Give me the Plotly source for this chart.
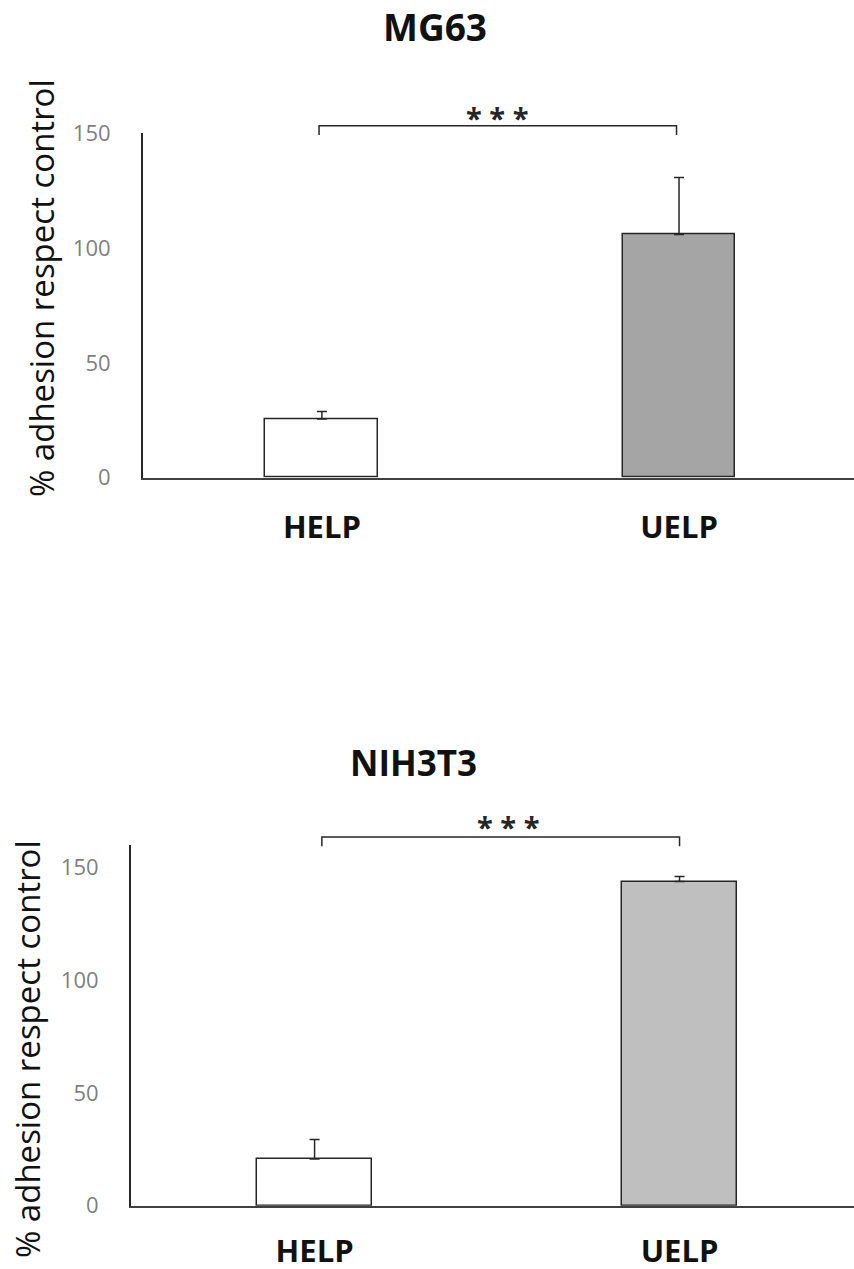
import plotly.graph_objects as go

# ---- data ----
categories = ["HELP", "UELP"]

mg63_values = [25.6, 105.9]
mg63_err = [3.2, 24.9]
mg63_colors = ["#ffffff", "#a5a5a5"]

nih_values = [20.7, 143.8]
nih_err = [8.7, 2.2]
nih_colors = ["#ffffff", "#bfbfbf"]

titles = ["MG63", "NIH3T3"]
y_title = "% adhesion respect control"
y_ticks = [0, 50, 100, 150]
sig_label = "* * *"

# bracket heights (data units) and bracket ends (category positions)
mg63_bracket = {"y": 153.3, "drop": 149.3, "x0": -0.008, "x1": 0.993, "star_y": 157.0, "star_x": 0.49}
nih_bracket = {"y": 163.6, "drop": 159.4, "x0": 0.02, "x1": 1.0, "star_y": 168.0, "star_x": 0.53}

W, H = 854, 1269
FONT = "Open Sans"
LINE = "#404040"

# plot-area pixel boxes
top_box = dict(l=143, r=854, t=133.3, b=477.7)
bot_box = dict(l=131, r=854, t=845, b=1205.7)

top_xr = [-0.501, 1.49]
bot_xr = [-0.503, 1.478]
top_yr = [0, 150]
bot_yr = [0, 160]

def xdom(box):
    return [box["l"] / W, box["r"] / W]

def ydom(box):
    return [1 - box["b"] / H, 1 - box["t"] / H]

fig = go.Figure()

def add_bars(values, errs, colors, xa, ya):
    fig.add_trace(go.Bar(
        x=categories, y=values, xaxis=xa, yaxis=ya,
        width=0.316,
        marker=dict(color=colors, line=dict(color="#262626", width=1.5)),
        error_y=dict(type="data", array=errs, arrayminus=[0] * len(errs),
                     symmetric=False, color="#262626", thickness=1.5, width=5),
        showlegend=False, hoverinfo="skip",
    ))

add_bars(mg63_values, mg63_err, mg63_colors, "x", "y")
add_bars(nih_values, nih_err, nih_colors, "x2", "y2")

xaxis_common = dict(
    type="category", showgrid=False, zeroline=False, showline=True,
    linecolor=LINE, linewidth=2, ticks="",
    tickfont=dict(family=FONT, size=31, color="#111111", weight="bold"),
    fixedrange=True, automargin=False,
)
yaxis_common = dict(
    showgrid=False, zeroline=False, showline=True, linecolor="#262626",
    linewidth=2, ticks="", tickvals=y_ticks, ticklabelstandoff=26,
    tickfont=dict(family=FONT, size=22, color="#7f7f7f"),
    fixedrange=True, automargin=False,
)

fig.update_layout(
    width=W, height=H,
    margin=dict(l=0, r=0, t=0, b=0, pad=0, autoexpand=False),
    paper_bgcolor="white", plot_bgcolor="white",
    bargap=0, showlegend=False,
    xaxis=dict(xaxis_common, domain=xdom(top_box), range=top_xr, anchor="y",
               ticklabelstandoff=21),
    yaxis=dict(yaxis_common, domain=ydom(top_box), range=top_yr, anchor="x"),
    xaxis2=dict(xaxis_common, domain=xdom(bot_box), range=bot_xr, anchor="y2",
                ticklabelstandoff=17),
    yaxis2=dict(yaxis_common, domain=ydom(bot_box), range=bot_yr, anchor="x2"),
)

def frac(v, r):
    return (v - r[0]) / (r[1] - r[0])

def add_bracket(br, xr, yr, xd, yd):
    x0 = frac(br["x0"], xr)
    x1 = frac(br["x1"], xr)
    yt = frac(br["y"], yr)
    yb = frac(br["drop"], yr)
    pts = [(x0, yb), (x0, yt), (x1, yt), (x1, yb)]
    path = "M " + " L ".join(f"{px},{py}" for px, py in pts)
    fig.add_shape(type="path", path=path, xref=xd, yref=yd,
                  line=dict(color="#262626", width=1.5))
    fig.add_annotation(x=frac(br["star_x"], xr), y=frac(br["star_y"], yr),
                       xref=xd, yref=yd, text=sig_label, showarrow=False,
                       font=dict(family=FONT, size=29, color="#262626", weight="bold"),
                       xanchor="center", yanchor="middle")

add_bracket(mg63_bracket, top_xr, top_yr, "x domain", "y domain")
add_bracket(nih_bracket, bot_xr, bot_yr, "x2 domain", "y2 domain")

# titles
fig.add_annotation(x=435 / W, y=1 - 26 / H, xref="paper", yref="paper",
                   text=titles[0], showarrow=False,
                   font=dict(family=FONT, size=37, color="#111111", weight="bold"),
                   xanchor="center", yanchor="middle")
fig.add_annotation(x=413 / W, y=1 - 762 / H, xref="paper", yref="paper",
                   text=titles[1], showarrow=False,
                   font=dict(family=FONT, size=35, color="#111111", weight="bold"),
                   xanchor="center", yanchor="middle")

# y-axis titles
fig.add_annotation(x=41 / W, y=1 - 288 / H, xref="paper", yref="paper",
                   text=y_title, showarrow=False, textangle=-90,
                   font=dict(family=FONT, size=33, color="#111111"),
                   xanchor="center", yanchor="middle")
fig.add_annotation(x=27 / W, y=1 - 1049 / H, xref="paper", yref="paper",
                   text=y_title, showarrow=False, textangle=-90,
                   font=dict(family=FONT, size=33, color="#111111"),
                   xanchor="center", yanchor="middle")

fig.write_html(
    "out.html",
    config={"displayModeBar": False},
    post_script="document.body.style.margin='0';document.body.style.overflow='hidden';",
)
